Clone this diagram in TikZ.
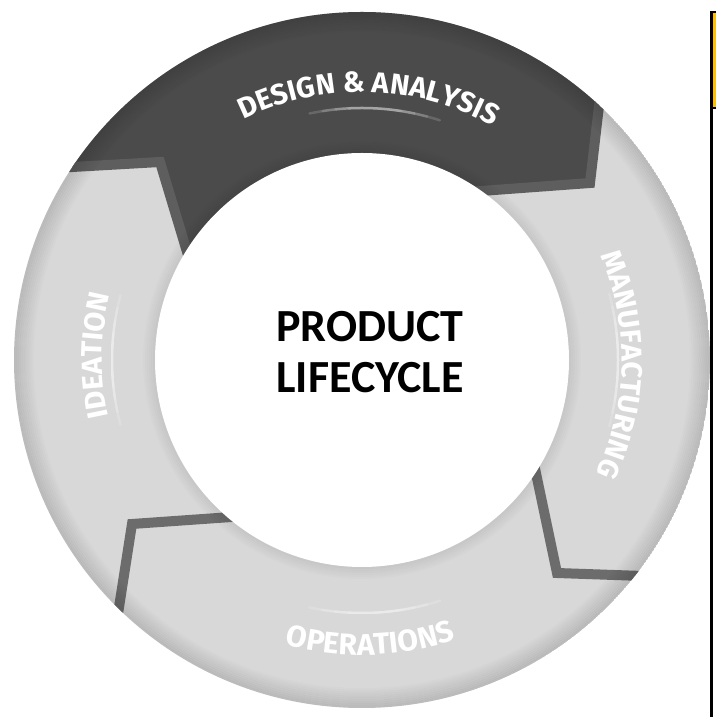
\documentclass[tikz,border=0pt]{standalone}
\usepackage{fontspec}
\newfontfamily\ringfont{Fira Sans}
\newfontfamily\centerfont{Carlito}
\usetikzlibrary{decorations.text}
\definecolor{lightseg}{HTML}{D8D8D8}
\definecolor{darkseg}{HTML}{4B4B4B}
\definecolor{stripdark}{HTML}{5E5E5E}
\definecolor{stripmid}{HTML}{6C6C6C}
\definecolor{boxyellow}{HTML}{FFC000}
\begin{document}
\begin{tikzpicture}[x=1pt,y=1pt,
  stripline/.style={line width=10pt, line join=miter, line cap=butt},
  glow/.style={white, line width=2.5pt, opacity=0.16, line cap=round},
  ringlabel/.style={decorate, decoration={text along path, text align=center, text color=white,
     text={|\ringfont\bfseries\fontsize{29}{29}\selectfont|#1}}},
  ringlabelbig/.style={decorate, decoration={text along path, text align=center, text color=white,
     text={|\ringfont\bfseries\fontsize{30}{30}\selectfont|#1}}}
]
\useasboundingbox (0,0) rectangle (715,717);
\coordinate (C) at (362,357);
% ring segments
\begin{scope}
  \clip (C) circle[radius=348pt];
  \fill[lightseg] (C) circle[radius=348pt];
  \fill[darkseg] (20,547) -- (160,555) -- (200,422) -- (362,357) -- (440,523)
     -- (590,534) -- (614,740) -- (20,740) -- cycle;
  \draw[stripline, stripdark] (20,547) -- (160,555) -- (200,422);
  \draw[stripline, stripdark] (614,740) -- (590,534) -- (440,523);
  \draw[stripline, stripmid] (529,277) -- (557,144) -- (700,139);
  \draw[stripline, stripmid] (260,202) -- (132,193) -- (110,52);
  \foreach \i in {0,...,9}
    \draw[black, opacity={0.013*(10-\i)}, line width=2pt] (C) circle[radius={(347-2*\i)*1pt}];
\end{scope}
\fill[white] (C) circle[radius=207pt];
\foreach \i in {0,...,5}
  \draw[black, opacity={0.012*(6-\i)}, line width=2pt] (C) circle[radius={(208+2*\i)*1pt}];
% soft highlight arcs
\foreach \s in {15,12,9,6} {
  \draw[glow] ([shift={(87+\s:252pt)}]C) arc[start angle=87+\s, end angle=87-\s, radius=252pt];
  \draw[glow] ([shift={(-87-\s:253pt)}]C) arc[start angle=-87-\s, end angle=-87+\s, radius=253pt];
  \draw[glow] ([shift={(\s:256pt)}]C) arc[start angle=\s, end angle=-\s, radius=256pt];
  \draw[glow] ([shift={(180+\s:250pt)}]C) arc[start angle=180+\s, end angle=180-\s, radius=250pt];
}
% ring labels
\path[ringlabel={DESIGN {\&} ANALYSIS}] ([shift={(148.5:268pt)}]C) arc[start angle=148.5, end angle=28.5, radius=268pt];
\path[ringlabel={MANUFACTURING}] ([shift={(59:260pt)}]C) arc[start angle=59, end angle=-61, radius=260pt];
\path[ringlabel={IDEATION}] ([shift={(239:260pt)}]C) arc[start angle=239, end angle=119, radius=260pt];
\path[ringlabelbig={OPERATIONS}] ([shift={(-148.3:295pt)}]C) arc[start angle=-148.3, end angle=-28.3, radius=295pt];
% centre title
\node[font=\centerfont\bfseries\fontsize{46}{51}\selectfont, align=center, inner sep=0pt] (title) at (370,364.5) {PRODUCT\\LIFECYCLE};
% right edge frame
\fill[boxyellow] (711.5,705) rectangle (716,609);
\draw[black, line width=2.5pt] (716,705) -- (711.5,705) -- (711.5,609) -- (716,609);
\draw[black, line width=2.5pt] (711.5,609) -- (711.5,-2);
\end{tikzpicture}
\end{document}
